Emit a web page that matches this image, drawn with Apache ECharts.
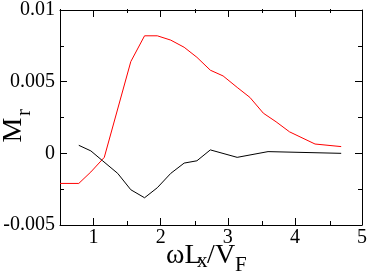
<!DOCTYPE html>
<html>
<head>
<meta charset="utf-8">
<script src="https://cdn.jsdelivr.net/npm/echarts@6/dist/echarts.min.js"></script>
<style>html,body{margin:0;padding:0;background:#fff;}#c{width:370px;height:274px;}</style>
</head>
<body>
<div id="c"></div>
<script>
// Data
const redX = [0.5, 0.78, 0.96, 1.16, 1.555, 1.76, 1.95, 2.15, 2.35, 2.54, 2.74, 2.93, 3.14, 3.33, 3.53, 3.72, 3.92, 4.3, 4.69];
const redY = [-0.0021, -0.0021, -0.0013, -0.00028, 0.0064, 0.0082, 0.0082, 0.0079, 0.0074, 0.0067, 0.0058, 0.0054, 0.0046, 0.0039, 0.0028, 0.0022, 0.0015, 0.00065, 0.00047];
const blackX = [0.78, 0.96, 1.13, 1.36, 1.555, 1.76, 1.95, 2.15, 2.35, 2.54, 2.74, 3.14, 3.6, 4.69];
const blackY = [0.00056, 0.00017, -0.0005, -0.0014, -0.00254, -0.0031, -0.0024, -0.0014, -0.00068, -0.00052, 0.00024, -0.00028, 0.00012, 0.0];
const xMajorTicks = [1, 2, 3, 4, 5];
const xMinorTicks = [0.5, 1.5, 2.5, 3.5, 4.5];
const yTickLabels = ['-0.005', '0', '0.005', '0.01'];

const FONT = 'Liberation Serif';
const pair = (xs, ys) => xs.map((x, i) => [x, ys[i]]);
const gridRect = {left: 60, right: 6, top: 9, bottom: 49};
const lineStyle = {color: '#000', width: 1};

function xAx(grid, pos, ticks, len, labels) {
  return {
    type: 'value', gridIndex: grid, position: pos, min: 0.5, max: 5,
    axisLine: {show: grid === 0, onZero: false, lineStyle},
    axisTick: {show: true, inside: true, length: len, customValues: ticks, lineStyle},
    axisLabel: labels ? {show: true, customValues: xMajorTicks, fontFamily: FONT, fontSize: 20, color: '#000', margin: 3} : {show: false},
    splitLine: {show: false}
  };
}
function yAx(grid, pos, labels) {
  return {
    type: 'value', gridIndex: grid, position: pos, min: -0.005, max: 0.01, interval: 0.005,
    axisLine: {show: grid === 0, onZero: false, lineStyle},
    axisTick: {show: grid === 0, inside: true, length: 7, lineStyle},
    minorTick: {show: grid === 0, splitNumber: 2, length: 4, lineStyle},
    axisLabel: labels ? {show: true, fontFamily: FONT, fontSize: 20, color: '#000', margin: 5,
      formatter: v => yTickLabels[Math.round((v + 0.005) / 0.005)]} : {show: false},
    splitLine: {show: false}
  };
}
function txt(text, x, y, size, rot) {
  return {type: 'text', x: x, y: y, rotation: rot || 0,
    style: {text: text, fontFamily: FONT, fontSize: size, fill: '#000', align: 'left', verticalAlign: 'middle'}};
}

const chart = echarts.init(document.getElementById('c'), null, {renderer: 'canvas'});
chart.setOption({
  animation: false,
  backgroundColor: '#fff',
  textStyle: {fontFamily: FONT},
  grid: [Object.assign({}, gridRect), Object.assign({}, gridRect)],
  xAxis: [
    xAx(0, 'bottom', xMajorTicks, 7, true),
    xAx(0, 'top', xMajorTicks, 7, false),
    xAx(1, 'bottom', xMinorTicks, 4, false),
    xAx(1, 'top', xMinorTicks, 4, false)
  ],
  yAxis: [
    yAx(0, 'left', true),
    yAx(0, 'right', false),
    yAx(1, 'left', false)
  ],
  graphic: [
    // x axis title: ωL_x / V_F
    txt('ωL', 166, 255.5, 28),
    txt('x', 197, 261.5, 21),
    txt('/', 207, 255.5, 28),
    txt('V', 215, 255.5, 28),
    txt('F', 235, 265.5, 21),
    // y axis title: M_r (rotated)
    txt('M', 13.5, 142.5, 28, Math.PI / 2),
    txt('r', 24.5, 116, 21, Math.PI / 2)
  ],
  series: [
    {type: 'line', xAxisIndex: 0, yAxisIndex: 0, data: pair(redX, redY), symbol: 'none',
      lineStyle: {color: '#ff0000', width: 1}, itemStyle: {color: '#ff0000'}},
    {type: 'line', xAxisIndex: 0, yAxisIndex: 0, data: pair(blackX, blackY), symbol: 'none',
      lineStyle: {color: '#000000', width: 1}, itemStyle: {color: '#000'}}
  ]
});
</script>
</body>
</html>
